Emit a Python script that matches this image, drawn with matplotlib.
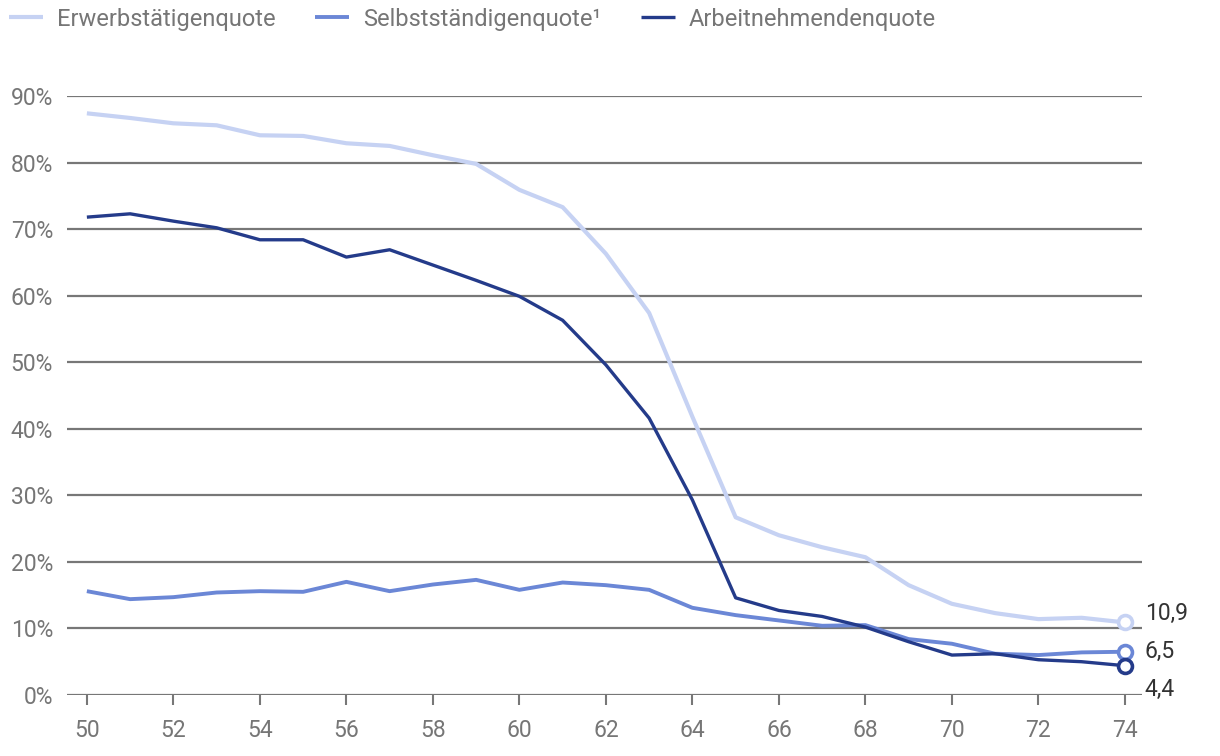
import matplotlib
matplotlib.use('agg')
import matplotlib.pyplot as plt

# Data
ages = list(range(50, 75))

erwerbstaetige = [87.4, 86.7, 85.9, 85.6, 84.1, 84.0, 82.9, 82.5, 81.1, 79.8,
                  75.9, 73.3, 66.3, 57.4, 41.8, 26.7, 24.0, 22.2, 20.7, 16.5,
                  13.7, 12.3, 11.4, 11.6, 10.9]
selbststaendige = [15.6, 14.4, 14.7, 15.4, 15.6, 15.5, 17.0, 15.6, 16.6, 17.3,
                   15.8, 16.9, 16.5, 15.8, 13.1, 12.0, 11.2, 10.4, 10.5, 8.4,
                   7.7, 6.2, 6.0, 6.4, 6.5]
arbeitnehmende = [71.8, 72.3, 71.2, 70.2, 68.4, 68.4, 65.8, 66.9, 64.6, 62.3,
                  59.9, 56.3, 49.6, 41.6, 29.3, 14.6, 12.7, 11.8, 10.2, 8.0,
                  6.0, 6.2, 5.3, 5.0, 4.4]

series_names = ["Erwerbstätigenquote", "Selbstständigenquote¹", "Arbeitnehmendenquote"]
colors = ["#c6d2f3", "#6b87d6", "#243b8a"]
end_labels = ["10,9", "6,5", "4,4"]
label_offsets = [6.5, 0, -17]  # points, so the labels don't overlap

plt.rcParams['font.family'] = ['Roboto', 'DejaVu Sans']

fig = plt.figure(figsize=(12.2, 7.56), dpi=100)
ax = fig.add_axes([0.0549, 0.0807, 0.881, 0.7923])

all_series = [erwerbstaetige, selbststaendige, arbeitnehmende]
widths = [3.0, 2.8, 2.4]
handles = []
for vals, name, c, lw in zip(all_series, series_names, colors, widths):
    h, = ax.plot(ages, vals, color=c, lw=lw, label=name, solid_capstyle='butt')
    handles.append(h)
    ax.plot(ages[-1], vals[-1], 'o', ms=10, mfc='white', mec=c, mew=2.6, zorder=5)

for vals, txt, off in zip(all_series, end_labels, label_offsets):
    ax.annotate(txt, (ages[-1], vals[-1]), xytext=(14.4, off), textcoords='offset points',
                fontsize=16.5, color='#333333', va='center', ha='left',
                annotation_clip=False)

ax.set_xlim(49.54, 74.39)
ax.set_ylim(0, 90)
ax.set_xticks(range(50, 75, 2))
ax.set_yticks(range(0, 91, 10))
ax.set_yticklabels([f"{v}%" for v in range(0, 91, 10)])

ax.grid(axis='y', color='#777777', lw=1.6)
ax.set_axisbelow(True)
for s in ax.spines.values():
    s.set_visible(False)
ax.tick_params(axis='y', length=0, pad=10, labelsize=16.5, labelcolor='#767676')
ax.tick_params(axis='x', length=7, width=1.5, color='#777777', pad=10,
               labelsize=16.5, labelcolor='#767676')

leg = fig.legend(handles=handles, loc='upper left', bbox_to_anchor=(-0.01, 1.018),
                 ncol=3, frameon=False, fontsize=17, handlelength=1.45,
                 handletextpad=0.6, columnspacing=1.65)
for t in leg.get_texts():
    t.set_color('#767676')

fig.savefig('out.png', dpi=100)
